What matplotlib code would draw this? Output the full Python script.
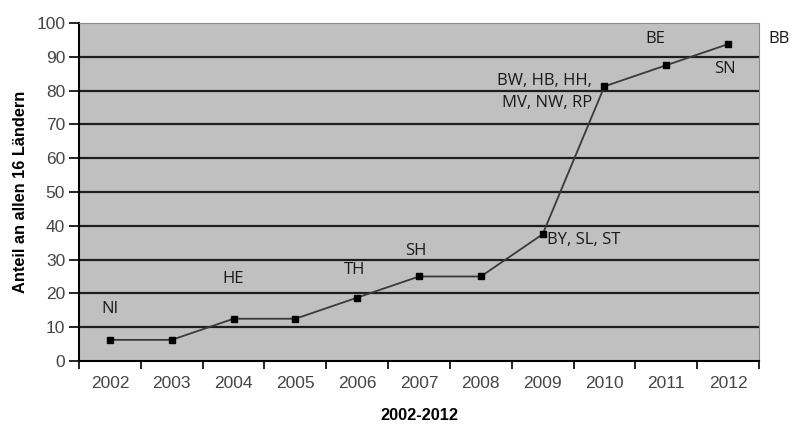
import numpy as np
from matplotlib import pyplot as plt

# Share of the 16 German states (Länder), cumulative per year
years = ["2002", "2003", "2004", "2005", "2006", "2007", "2008", "2009", "2010", "2011", "2012"]
share = [6.25, 6.25, 12.5, 12.5, 18.75, 25.0, 25.0, 37.5, 81.25, 87.5, 93.75]

# state abbreviations added in a given year: (year index, text, x offset, y, alignment)
labels = [
    (0, "NI", 0.0, 15.5, "center"),
    (2, "HE", 0.0, 24.3, "center"),
    (4, "TH", -0.05, 26.8, "center"),
    (5, "SH", -0.05, 32.5, "center"),
    (7, "BY, SL, ST", 0.07, 35.7, "left"),
    (8, "BW, HB, HH,\nMV, NW, RP", -0.2, 79.6, "right"),
    (9, "BE", -0.18, 95.2, "center"),
    (10, "SN", -0.05, 86.3, "center"),
]

fig = plt.figure(figsize=(7.95, 4.25), dpi=100)
ax = fig.add_axes([0.0994, 0.1506, 0.8553, 0.7953])
ax.set_facecolor("#c0c0c0")

x = np.arange(len(years))
ax.set_xlim(-0.5, len(years) - 0.5)
ax.set_ylim(0, 100)

for yv in range(10, 100, 10):
    ax.axhline(yv, color="#1e1e1e", lw=1.6, zorder=1)

ax.plot(x, share, color="#3a3a3a", lw=1.3, marker="s", ms=5,
        mfc="black", mec="black", zorder=3)

for i, txt, dx, yv, ha in labels:
    ax.text(x[i] + dx, yv, txt, ha=ha, va="center", fontsize=12,
            family="Open Sans", color="#1a1a1a", linespacing=1.45)
ax.text(1.03, 95.2, "BB", transform=ax.get_yaxis_transform(), ha="center",
        va="center", fontsize=12, family="Open Sans", color="#1a1a1a",
        clip_on=False)

ax.set_xticks(np.arange(-0.5, len(years)), minor=False)
ax.set_xticklabels([])
ax.set_xticks(x, minor=True)
ax.set_xticklabels(years, minor=True)
ax.tick_params(axis="x", which="major", direction="out", length=6, width=1.2, color="black")
ax.tick_params(axis="x", which="minor", length=0, pad=11, labelsize=12.5, labelcolor="#454545")
ax.set_yticks(range(0, 101, 10))
ax.tick_params(axis="y", direction="out", length=7, width=1.2, color="black",
               labelsize=12.5, labelcolor="#454545", pad=3)
for lab in ax.get_xticklabels(minor=True) + ax.get_yticklabels():
    lab.set_family("Liberation Sans")

ax.spines["left"].set_color("black")
ax.spines["left"].set_linewidth(1.5)
ax.spines["bottom"].set_color("black")
ax.spines["bottom"].set_linewidth(1.5)
ax.spines["top"].set_color("#8a8a8a")
ax.spines["right"].set_color("#8a8a8a")

ax.set_ylabel("Anteil an allen 16 Ländern", fontsize=11.8, fontweight="bold",
              family="Liberation Sans", labelpad=6)
ax.set_xlabel("2002-2012", fontsize=11.8, fontweight="bold",
              family="Liberation Sans", labelpad=12)

fig.savefig("out.png", dpi=100)
